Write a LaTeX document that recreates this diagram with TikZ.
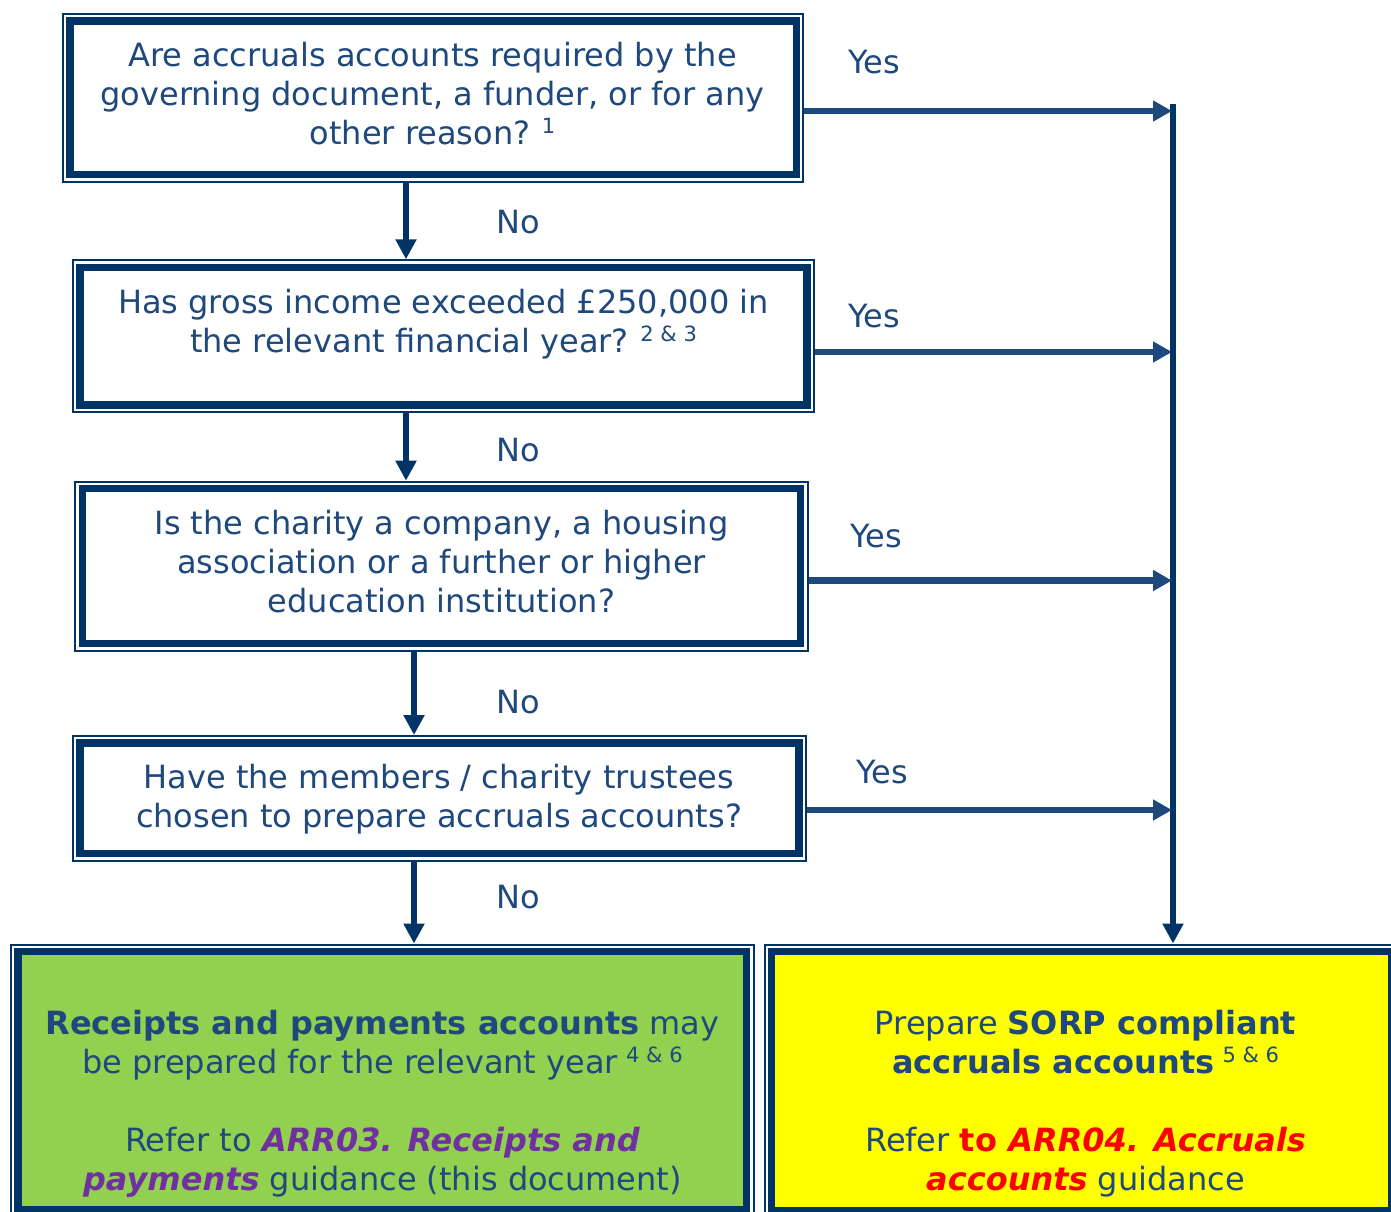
\documentclass[tikz,border=0pt]{standalone}
\usepackage{fontspec}
\setmainfont{DejaVu Sans}
\usetikzlibrary{arrows.meta}
\definecolor{navy}{HTML}{003366}
\definecolor{txt}{HTML}{1F497D}
\definecolor{pur}{HTML}{7030A0}
\definecolor{grn}{HTML}{92D050}
\definecolor{yel}{HTML}{FFFF00}
\definecolor{rd}{HTML}{FF0000}
\newcommand\sps[1]{\hspace{-1pt}\raisebox{5.5pt}{\fontsize{10.5pt}{12pt}\selectfont #1}}
\begin{document}
\begin{tikzpicture}[x=0.5pt,y=-0.5pt,
  qbox/.style={rectangle, draw=navy, fill=white, line width=3.7pt, inner sep=0pt, outer sep=4pt,
    preaction={draw=navy, line width=8pt}, preaction={draw=white, line width=6pt}},
  lbl/.style={font=\fontsize{16pt}{19.5pt}\selectfont, text=txt, inner sep=0pt, anchor=base},
  btxt/.style={lbl, align=center},
  varr/.style={draw=navy, line width=3.4pt, -{Triangle[length=10pt,width=10pt]}},
  harr/.style={draw=txt, line width=3.3pt, -{Triangle[length=9.5pt,width=10pt]}},
  vline/.style={draw=navy, line width=3.2pt, -{Triangle[length=10pt,width=10pt]}}
]
\useasboundingbox (0,0) rectangle (1391,1211);
\clip (0,0) rectangle (1391,1211);
% boxes
\node[qbox, minimum width=363.15pt, minimum height=76.85pt] (q1) at (433.15,97.65) {};
\node[qbox, minimum width=363.5pt, minimum height=68.85pt] (q2) at (443.5,336.15) {};
\node[qbox, minimum width=359.1pt, minimum height=77.5pt] (q3) at (441.4,566.2) {};
\node[qbox, minimum width=359.5pt, minimum height=55.35pt] (q4) at (439.5,798.35) {};
\node[qbox, fill=grn, minimum width=364.35pt, minimum height=129.25pt] (g) at (382.35,1080.75) {};
\node[qbox, fill=yel, minimum width=310.25pt, minimum height=129.5pt] (y) at (1081.75,1081) {};
% texts (anchor base = last line baseline)
\node[btxt] (t1) at (432.5,144) {Are accruals accounts required by the\\governing document, a funder, or for any\\other reason? \sps{1}};
\node[btxt] (t2) at (443.5,352) {Has gross income exceeded £250,000 in\\the relevant financial year? \sps{2 \& 3}};
\node[btxt] (t3) at (441.5,612) {Is the charity a company, a housing\\association or a further or higher\\education institution?};
\node[btxt] (t4) at (439,827) {Have the members / charity trustees\\chosen to prepare accruals accounts?};
\node[btxt] (t5) at (382.5,1190) {\textbf{Receipts and payments accounts} may\\be prepared for the relevant year \sps{4 \& 6}\\[19.5pt]Refer to \textcolor{pur}{\textbf{\textit{ARR03. Receipts and}}}\\\textcolor{pur}{\textbf{\textit{payments}}} guidance (this document)};
\node[btxt] (t6) at (1085.5,1190) {Prepare \textbf{SORP compliant}\\\textbf{accruals accounts} \sps{5 \& 6}\\[19.5pt]Refer \textcolor{rd}{\textbf{to \textit{ARR04. Accruals}}}\\\textcolor{rd}{\textbf{\textit{accounts}}} guidance};
% labels
\node[lbl] (y1) at (874,73) {Yes};
\node[lbl] (y2) at (874,327) {Yes};
\node[lbl] (y3) at (876,547) {Yes};
\node[lbl] (y4) at (882,783) {Yes};
\node[lbl] (n1) at (518,233) {No};
\node[lbl] (n2) at (518,461) {No};
\node[lbl] (n3) at (518,713) {No};
\node[lbl] (n4) at (518,908) {No};
% connectors
\coordinate (a1) at (406,0);
\coordinate (a3) at (414,0);
\draw[varr] (q1.south -| a1) -- (q2.north -| a1);
\draw[varr] (q2.south -| a1) -- (q3.north -| a1);
\draw[varr] (q3.south -| a3) -- (q4.north -| a3);
\draw[varr] (q4.south -| a3) -- (g.north -| a3);
\coordinate (vt) at (1173,104);
\draw[vline] (vt) -- (y.north -| vt);
\coordinate (h1) at (1172,111);
\coordinate (h2) at (1172,352);
\coordinate (h3) at (1172,580.5);
\coordinate (h4) at (1172,810);
\draw[harr] (q1.east |- h1) -- (h1);
\draw[harr] (q2.east |- h2) -- (h2);
\draw[harr] (q3.east |- h3) -- (h3);
\draw[harr] (q4.east |- h4) -- (h4);
\end{tikzpicture}
\end{document}
